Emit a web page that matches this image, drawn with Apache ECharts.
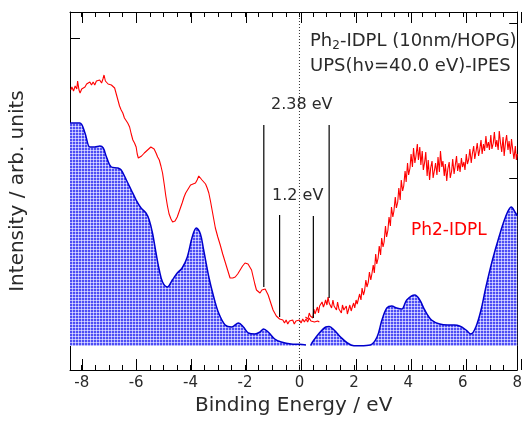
<!DOCTYPE html>
<html><head><meta charset="utf-8">
<script src="https://cdn.jsdelivr.net/npm/echarts@6/dist/echarts.min.js"></script>
<style>html,body{margin:0;padding:0;background:#fff}#c{width:525px;height:421px}</style>
</head><body><div id="c"></div>
<script>
// ---- data (binding energy eV, intensity arb. units) ----
const upsRed = [[-8.40,25.6],[-8.36,25.9],[-8.30,25.5],[-8.24,26.0],[-8.18,25.7],[-8.15,26.5],[-8.10,25.6],[-8.06,25.3],[-8.00,25.7],[-7.94,25.5],[-7.88,25.9],[-7.82,26.2],[-7.76,26.0],[-7.70,26.4],[-7.64,26.1],[-7.58,26.4],[-7.52,26.1],[-7.46,26.5],[-7.40,26.3],[-7.34,26.6],[-7.27,26.3],[-7.22,26.7],[-7.18,27.1],[-7.13,26.5],[-7.09,26.6],[-7.03,26.2],[-6.97,26.4],[-6.91,26.1],[-6.85,26.2],[-6.79,25.8],[-6.73,25.2],[-6.67,24.6],[-6.61,24.0],[-6.55,23.6],[-6.49,23.3],[-6.43,22.8],[-6.37,22.7],[-6.31,22.3],[-6.24,21.9],[-6.18,21.2],[-6.12,20.6],[-6.06,20.3],[-6.00,19.9],[-5.96,19.2],[-5.92,18.8],[-5.86,19.0],[-5.80,19.0],[-5.76,19.2],[-5.70,19.3],[-5.64,19.5],[-5.58,19.6],[-5.52,19.7],[-5.46,19.9],[-5.40,20.1],[-5.34,19.7],[-5.27,19.3],[-5.21,18.9],[-5.15,18.6],[-5.09,18.0],[-5.03,17.3],[-4.97,16.2],[-4.91,15.0],[-4.85,14.0],[-4.79,13.2],[-4.72,12.7],[-4.66,12.4],[-4.63,12.3],[-4.57,12.5],[-4.49,12.9],[-4.40,13.6],[-4.31,14.3],[-4.24,14.9],[-4.18,15.3],[-4.09,15.7],[-4.00,16.1],[-3.91,16.2],[-3.82,16.3],[-3.76,16.6],[-3.70,17.0],[-3.64,16.9],[-3.58,16.6],[-3.52,16.4],[-3.45,16.2],[-3.39,15.8],[-3.33,15.3],[-3.27,14.5],[-3.21,13.6],[-3.15,12.7],[-3.09,11.8],[-3.00,10.9],[-2.91,10.1],[-2.82,9.2],[-2.73,8.4],[-2.64,7.6],[-2.55,6.8],[-2.45,6.8],[-2.36,6.9],[-2.27,7.2],[-2.18,7.6],[-2.09,8.0],[-2.00,8.3],[-1.96,8.4],[-1.89,8.2],[-1.82,8.2],[-1.76,7.6],[-1.70,6.9],[-1.64,6.2],[-1.58,5.6],[-1.52,5.4],[-1.45,5.3],[-1.38,5.6],[-1.31,5.8],[-1.26,5.7],[-1.21,5.5],[-1.15,5.1],[-1.09,4.6],[-1.03,4.1],[-0.97,3.6],[-0.91,3.3],[-0.85,3.0],[-0.79,2.9],[-0.73,2.7],[-0.67,2.5],[-0.61,2.6],[-0.55,2.3],[-0.49,2.6],[-0.43,2.2],[-0.37,2.5],[-0.31,2.3],[-0.25,2.6],[-0.19,2.2],[-0.13,2.5],[-0.07,2.3],[0.00,2.6],[0.06,2.3],[0.12,2.7],[0.18,2.4],[0.24,2.7],[0.30,2.4],[0.36,2.8],[0.42,2.5],[0.48,2.7],[0.55,2.4],[0.61,2.6],[0.67,2.5],[0.73,2.4]];
const ipesRed = [[0.22,2.9],[0.27,3.1],[0.31,2.7],[0.36,3.3],[0.40,3.0],[0.45,3.1],[0.49,2.8],[0.53,3.7],[0.57,3.2],[0.61,3.4],[0.66,3.9],[0.70,3.3],[0.74,4.0],[0.79,3.8],[0.83,4.4],[0.88,3.9],[0.92,4.2],[0.96,4.6],[1.01,4.1],[1.05,4.9],[1.09,4.3],[1.14,4.4],[1.18,3.8],[1.23,4.6],[1.27,4.0],[1.31,4.2],[1.36,3.6],[1.40,4.4],[1.45,3.7],[1.49,3.9],[1.54,3.3],[1.58,4.1],[1.63,3.6],[1.67,3.4],[1.72,4.0],[1.76,3.2],[1.81,3.7],[1.85,4.1],[1.90,3.5],[1.94,3.9],[1.99,4.3],[2.03,3.8],[2.08,4.6],[2.12,4.2],[2.17,4.4],[2.21,5.2],[2.26,4.6],[2.30,5.8],[2.35,5.1],[2.39,5.5],[2.44,6.6],[2.48,5.9],[2.53,6.4],[2.57,7.4],[2.62,6.6],[2.66,7.2],[2.71,8.1],[2.75,7.3],[2.80,9.2],[2.84,8.2],[2.89,8.8],[2.93,10.0],[2.98,9.1],[3.02,10.8],[3.07,9.9],[3.11,10.4],[3.16,12.0],[3.20,10.9],[3.25,11.6],[3.29,12.9],[3.34,12.0],[3.38,13.9],[3.43,12.9],[3.47,13.5],[3.52,14.9],[3.56,13.8],[3.61,14.4],[3.65,15.8],[3.70,14.6],[3.74,16.6],[3.79,15.5],[3.83,16.0],[3.88,17.5],[3.92,16.4],[3.97,18.3],[4.01,17.1],[4.06,17.8],[4.10,19.2],[4.15,17.9],[4.19,19.8],[4.24,18.3],[4.28,19.0],[4.33,20.2],[4.37,18.6],[4.42,19.9],[4.46,18.1],[4.51,19.5],[4.55,17.6],[4.60,18.4],[4.64,19.4],[4.69,17.0],[4.73,18.6],[4.78,16.6],[4.82,17.8],[4.87,18.5],[4.91,16.8],[4.96,17.6],[5.00,18.3],[5.05,17.1],[5.09,18.9],[5.14,17.4],[5.18,19.5],[5.23,17.9],[5.27,18.5],[5.32,17.0],[5.36,18.2],[5.41,16.5],[5.45,17.7],[5.50,18.4],[5.54,16.8],[5.59,17.5],[5.63,18.7],[5.68,17.2],[5.72,18.0],[5.77,19.0],[5.81,17.5],[5.86,18.3],[5.90,17.4],[5.95,18.8],[5.99,17.9],[6.04,18.4],[6.08,17.6],[6.13,19.2],[6.17,18.2],[6.22,18.7],[6.26,19.7],[6.31,18.3],[6.35,19.2],[6.40,20.0],[6.44,18.7],[6.49,19.5],[6.53,20.3],[6.58,19.0],[6.62,19.6],[6.67,20.6],[6.71,19.2],[6.76,20.2],[6.80,19.5],[6.85,21.0],[6.89,19.8],[6.94,20.4],[6.98,19.6],[7.03,21.1],[7.07,19.7],[7.12,20.3],[7.16,21.4],[7.21,19.9],[7.25,20.6],[7.30,19.6],[7.34,21.5],[7.39,20.2],[7.43,19.4],[7.48,20.9],[7.52,19.0],[7.57,20.4],[7.61,21.1],[7.66,19.6],[7.70,20.5],[7.75,19.2],[7.79,20.7],[7.84,19.5],[7.88,18.7],[7.93,20.0],[7.97,18.6],[8.00,19.2]];
const upsDos = [[-8.43,22.3],[-8.07,22.3],[-7.88,21.3],[-7.70,19.9],[-7.52,19.9],[-7.33,20.0],[-7.21,19.8],[-7.09,18.9],[-6.91,17.9],[-6.67,17.8],[-6.55,17.6],[-6.36,16.6],[-6.18,15.6],[-6.00,14.6],[-5.82,13.8],[-5.64,13.3],[-5.52,12.6],[-5.40,11.3],[-5.27,9.3],[-5.15,7.6],[-5.03,6.4],[-4.85,5.9],[-4.67,6.6],[-4.49,7.3],[-4.31,7.8],[-4.12,8.9],[-3.94,10.9],[-3.79,11.8],[-3.64,11.2],[-3.52,9.6],[-3.33,6.9],[-3.15,4.9],[-2.97,3.3],[-2.73,2.1],[-2.49,1.9],[-2.24,2.3],[-2.06,1.9],[-1.88,1.3],[-1.64,1.2],[-1.45,1.4],[-1.32,1.7],[-1.15,1.4],[-0.91,0.7],[-0.67,0.4],[-0.31,0.2],[0.00,0.17],[0.24,0.1]];
const ipesDos = [[0.41,0.05],[0.48,0.4],[0.73,1.3],[0.97,1.9],[1.09,1.95],[1.27,1.6],[1.51,0.9],[1.76,0.3],[2.00,0.03],[2.24,0.03],[2.60,0.1],[2.85,0.9],[3.03,2.6],[3.21,3.8],[3.39,4.0],[3.57,3.8],[3.76,3.7],[3.94,4.6],[4.24,5.1],[4.42,4.6],[4.60,3.6],[4.85,2.6],[5.15,2.2],[5.45,2.1],[5.69,2.1],[5.88,2.0],[6.12,1.6],[6.30,1.2],[6.48,1.9],[6.67,3.6],[6.85,5.9],[7.09,8.6],[7.33,10.9],[7.57,12.9],[7.78,13.9],[7.94,13.3],[8.00,13.0]];
// gap marker lines: [energy, lower end, upper end]
const gap238 = [[-1.31,5.9,22.1],[1.09,4.8,22.1]];
const gap12 = [[-0.73,2.9,13.1],[0.51,2.8,13.0]];
const xMajorTicks = [-8,-6,-4,-2,0,2,4,6,8];
const xMinorTicks = [-8,-7.5,-7,-6.5,-6,-5.5,-5,-4.5,-4,-3.5,-3,-2.5,-2,-1.5,-1,-0.5,0,0.5,1,1.5,2,2.5,3,3.5,4,4.5,5,5.5,6,6.5,7,7.5,8];
const yLeftTicks = [5.2,13.7,22.3,30.8];
const yRightTicks = [1.1,8.9,16.8,24.4,32.3];
const X_MIN = -8.43, X_MAX = 8, Y_MIN = -2.4, Y_MAX = 33.4;

const FONT = 'DejaVu Sans';
function pattern(){
  const c = document.createElement('canvas'); c.width = 3; c.height = 3;
  const g = c.getContext('2d');
  g.fillStyle = '#4e4ef4'; g.fillRect(0,0,3,3);
  g.fillStyle = '#b4b4ff'; g.fillRect(0,0,1,3); g.fillRect(0,0,3,1);
  g.fillStyle = '#e2e2ff'; g.fillRect(0,0,1,1);
  return c;
}
const pat = {image: pattern(), repeat: 'repeat'};
const black = '#000';
const txt = '#2a2a2a';
function xAx(pos, grid, ticks, len, withLabels, line){
  const a = {type:'value', gridIndex:grid, position:pos, min:X_MIN, max:X_MAX,
    axisLine:{show:line, onZero:false, lineStyle:{color:black,width:1}},
    axisTick:{show:true, inside:true, length:len, customValues:ticks, lineStyle:{color:black,width:1}},
    axisLabel:{show:false}, splitLine:{show:false}};
  if (withLabels) {
    a.axisLabel = {show:true, customValues:xMajorTicks, margin:6, color:txt, fontFamily:FONT, fontSize:15};
    a.name = 'Binding Energy / eV'; a.nameLocation = 'middle'; a.nameGap = 18;
    a.nameTextStyle = {color:txt, fontFamily:FONT, fontSize:20};
  }
  return a;
}
function yAx(pos, grid, ticks, len, show){
  return {type:'value', gridIndex:grid, position:pos, min:Y_MIN, max:Y_MAX, show:show,
    axisLine:{show:true, onZero:false, lineStyle:{color:black,width:1}},
    axisTick:{show:true, inside:true, length:len, customValues:ticks, lineStyle:{color:black,width:1}},
    axisLabel:{show:false}, splitLine:{show:false}};
}
const yL = yAx('left',0,yLeftTicks,10,true);
yL.name = 'Intensity / arb. units'; yL.nameLocation='middle'; yL.nameGap = 42; yL.nameRotate = 90;
yL.nameTextStyle = {color:txt, fontFamily:FONT, fontSize:20};

function vline(arr){
  const s = [];
  arr.forEach(function(d){ s.push([d[0], d[1]]); s.push([d[0], d[2]]); s.push(null); });
  return s;
}
const gridRect = {left:70, right:4, top:12, bottom:51};
const chart = echarts.init(document.getElementById('c'), null, {renderer:'canvas'});
chart.setOption({
  animation:false,
  backgroundColor:'#fff',
  grid:[Object.assign({}, gridRect), Object.assign({}, gridRect)],
  xAxis:[xAx('bottom',0,xMinorTicks,5,true,true), xAx('top',0,xMinorTicks,5,false,true),
         xAx('bottom',1,xMajorTicks,11,false,false), xAx('top',1,xMajorTicks,11,false,false)],
  yAxis:[yL, yAx('right',0,yRightTicks,8,true), yAx('left',1,[],0,false)],
  series:[
    {type:'line', data:upsDos, smooth:0.35, symbol:'none', silent:true,
     lineStyle:{color:'#0000cc', width:1.5}, areaStyle:{color:pat, opacity:1, origin:'auto'}},
    {type:'line', data:ipesDos, smooth:0.35, symbol:'none', silent:true,
     lineStyle:{color:'#0000cc', width:1.5}, areaStyle:{color:pat, opacity:1, origin:'auto'}},
    {type:'line', data:upsRed, symbol:'none', silent:true, lineStyle:{color:'#ff0000', width:1.1}},
    {type:'line', data:ipesRed, symbol:'none', silent:true, lineStyle:{color:'#ff0000', width:1.1}},
    {type:'line', data:vline(gap238), symbol:'none', silent:true, connectNulls:false, lineStyle:{color:black, width:1.2}},
    {type:'line', data:vline(gap12), symbol:'none', silent:true, connectNulls:false, lineStyle:{color:black, width:1.2}},
    {type:'line', data:[[0,Y_MIN],[0,Y_MAX]], symbol:'none', silent:true, lineStyle:{color:'#333', width:1, type:[1,2]}}
  ],
  graphic:[
    {type:'text', left:310, top:32, silent:true, style:{text:'Ph{s|2}-IDPL (10nm/HOPG)', fill:txt, font:'18px "DejaVu Sans"',
      rich:{s:{fontSize:12, fontFamily:FONT, fill:txt, padding:[9,0,0,0]}}}},
    {type:'text', left:310, top:57, silent:true, style:{text:'UPS(h\u03bd=40.0 eV)-IPES', fill:txt, font:'18px "DejaVu Sans"'}},
    {type:'text', left:271, top:97, silent:true, style:{text:'2.38 eV', fill:txt, font:'16px "DejaVu Sans"'}},
    {type:'text', left:272, top:188, silent:true, style:{text:'1.2 eV', fill:txt, font:'16px "DejaVu Sans"'}},
    {type:'text', left:411, top:222, silent:true, style:{text:'Ph2-IDPL', fill:'#ff0000', font:'17px "DejaVu Sans"'}}
  ]
});
</script></body></html>
